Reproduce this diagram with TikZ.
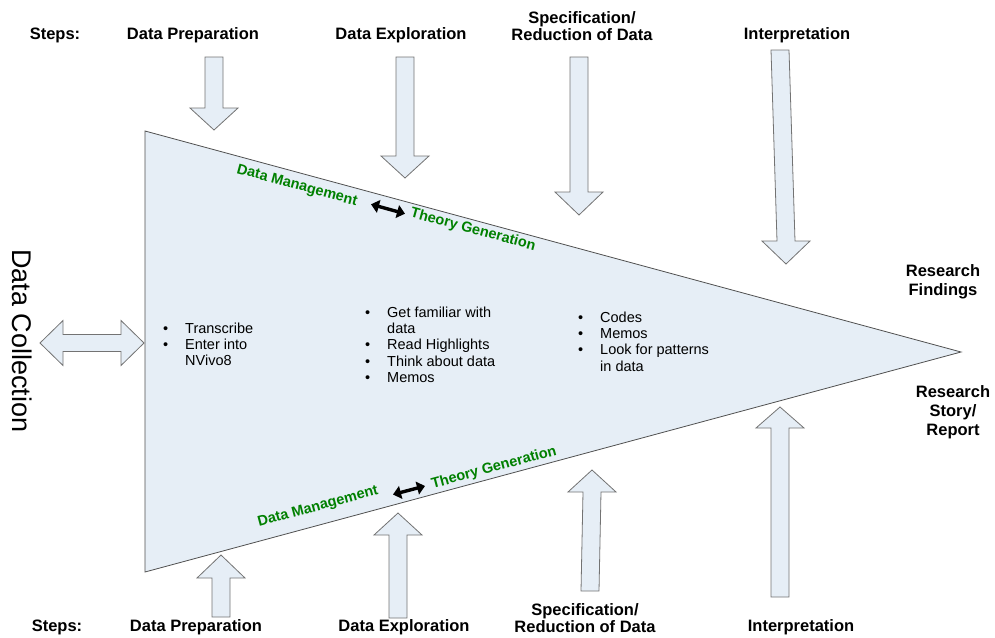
\documentclass[tikz,border=0pt]{standalone}
\usepackage{fontspec}
\setmainfont{Liberation Sans}
\usetikzlibrary{arrows.meta}

\definecolor{paleblue}{RGB}{230,238,246}
\definecolor{labelgreen}{RGB}{0,128,0}
\definecolor{edgegray}{RGB}{80,80,80}

\newcommand{\bul}{\makebox[22pt][l]{\textbullet}}
\newcommand{\ind}{\hspace*{22pt}}

\begin{document}
\begin{tikzpicture}
	  [x=1pt,y=-1pt,
	   steplabel/.style={font=\fontsize{16.5}{17.5}\selectfont\bfseries,align=center,inner sep=0pt},
	   outlabel/.style={font=\fontsize{16.5}{19}\selectfont\bfseries,align=center,inner sep=0pt},
	   greenlabel/.style={font=\fontsize{14.5}{16}\selectfont\bfseries,text=labelgreen,inner sep=0pt},
	   listtext/.style={font=\fontsize{14.5}{16.3}\selectfont,align=left,anchor=north west,inner sep=0pt},
	   wedge/.style={draw=edgegray,fill=paleblue,line width=.8pt},
	   blockarrow/.style={draw=edgegray!80,fill=paleblue,line width=.8pt,line join=miter},
	   biarrow/.style={line width=3.4pt,{Triangle[length=8pt,width=13pt]}-{Triangle[length=8pt,width=13pt]}}]
	\useasboundingbox (0,0) rectangle (995,637);

	% the funnel
	\coordinate (tl)  at (145,131);
	\coordinate (bl)  at (145,572);
	\coordinate (tip) at (961,352);
	\draw[wedge] (tl) -- (tip) -- (bl) -- cycle;

	% block arrows: shaft start x/y, head x, head base y, tip y
	\foreach \xa/\ya/\xb/\yh/\yt in {214/57/214/108/130, 405/57/405/156/178,
	    579/57/579/192/215, 780/50/786/241/264, 221/617/221/578/555,
	    398/618/398/535/513, 590/591/592/492/470, 780/597/780/428/407}
	  \draw[blockarrow] (\xa-9,\ya) -- (\xb-9,\yh) -- (\xb-24,\yh) -- (\xb,\yt)
	    -- (\xb+24,\yh) -- (\xb+9,\yh) -- (\xa+9,\ya) -- cycle;

	% data collection arrow
	\draw[blockarrow] (40,343) -- (63,320.5) -- (63,334.5) -- (121,334.5) -- (121,320.5)
	  -- (144,343) -- (121,365.5) -- (121,351.5) -- (63,351.5) -- (63,365.5) -- cycle;
	\node[font=\fontsize{27}{30}\selectfont,rotate=-90,inner sep=0pt] (dcoll) at (22,341) {Data Collection};

	% steps, top and bottom
	\node[steplabel] (stepsT)  at (55,35)  {Steps:};
	\node[steplabel] (prepT)   at (193,35) {Data Preparation};
	\node[steplabel] (exploT)  at (401,35) {Data Exploration};
	\node[steplabel] (specT)   at (582,26) {Specification/\\Reduction of Data};
	\node[steplabel] (interpT) at (797,35) {Interpretation};

	\node[steplabel] (stepsB)  at (57,627)  {Steps:};
	\node[steplabel] (prepB)   at (196,627) {Data Preparation};
	\node[steplabel] (exploB)  at (404,627) {Data Exploration};
	\node[steplabel] (specB)   at (585,618) {Specification/\\Reduction of Data};
	\node[steplabel] (interpB) at (801,627) {Interpretation};

	% outcomes
	\node[outlabel] (findings) at (943,282) {Research\\Findings};
	\node[outlabel] (story)    at (953,412) {Research\\Story/\\Report};

	% along the edges
	\node[greenlabel,rotate=-15.2] (dmT) at (297,186) {Data Management};
	\node[greenlabel,rotate=-15.2] (tgT) at (473,230) {Theory Generation};
	\node[greenlabel,rotate=15.1]  (dmB) at (318,507) {Data Management};
	\node[greenlabel,rotate=15.1]  (tgB) at (494,468) {Theory Generation};
	\coordinate (aT1) at (371,204.3);
	\coordinate (aT2) at (405,213.7);
	\coordinate (aB1) at (393,494.5);
	\coordinate (aB2) at (425,486);
	\draw[biarrow] (aT1) -- (aT2);
	\draw[biarrow] (aB1) -- (aB2);

	% what is done in each step
	\node[listtext] (list1) at (163,322.5) {\bul Transcribe\\\bul Enter into\\\ind NVivo8};
	\node[listtext] (list2) at (365,306.5) {\bul Get familiar with\\\ind data\\\bul Read Highlights\\\bul Think about data\\\bul Memos};
	\node[listtext] (list3) at (578,311.5) {\bul Codes\\\bul Memos\\\bul Look for patterns\\\ind in data};
	\end{tikzpicture}
\end{document}
